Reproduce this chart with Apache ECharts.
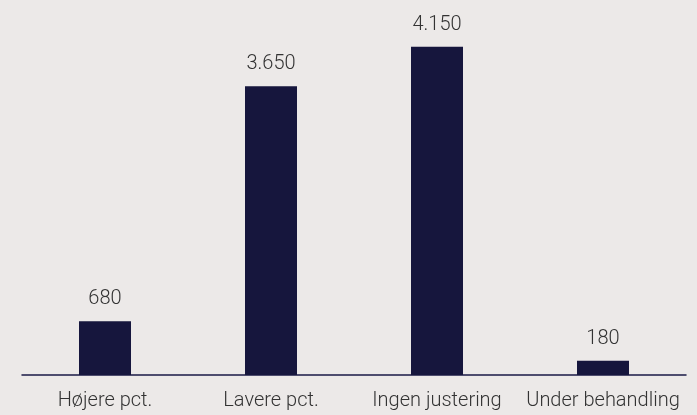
<!DOCTYPE html>
<html>
<head>
<meta charset="utf-8">
<script src="https://cdn.jsdelivr.net/npm/echarts@6/dist/echarts.min.js"></script>
<style>
html,body{margin:0;padding:0;background:#ECE9E8;}
#c{width:697px;height:415px;}
</style>
</head>
<body>
<div id="c"></div>
<script>
var categories = ["Højere pct.", "Lavere pct.", "Ingen justering", "Under behandling"];
var values = [680, 3650, 4150, 180];

function fmt(v){
  return String(v).replace(/\B(?=(\d{3})+(?!\d))/g, ".");
}

var chart = echarts.init(document.getElementById('c'), null, {renderer:'canvas'});
chart.setOption({
  backgroundColor: '#ECE9E8',
  animation: false,
  textStyle: {fontFamily: 'Roboto'},
  grid: {left: 22, right: 11, top: 19, bottom: 40, containLabel: false},
  xAxis: {
    type: 'category',
    data: categories,
    axisLine: {show: true, lineStyle: {color: '#1a1a46', width: 1.5}},
    axisTick: {show: false},
    axisLabel: {interval: 0, color: '#333333', fontSize: 20, margin: 16, fontFamily: 'Roboto', fontWeight: 300}
  },
  yAxis: {
    type: 'value',
    min: 0,
    max: 4500,
    show: false,
    splitLine: {show: false}
  },
  series: [{
    type: 'bar',
    data: values,
    barWidth: 52,
    itemStyle: {color: '#16163D'},
    label: {
      show: true,
      position: 'top',
      distance: 12,
      color: '#333333',
      fontSize: 20,
      fontFamily: 'Roboto',
      fontWeight: 300,
      formatter: function(p){ return fmt(p.value); }
    }
  }]
});
</script>
</body>
</html>
